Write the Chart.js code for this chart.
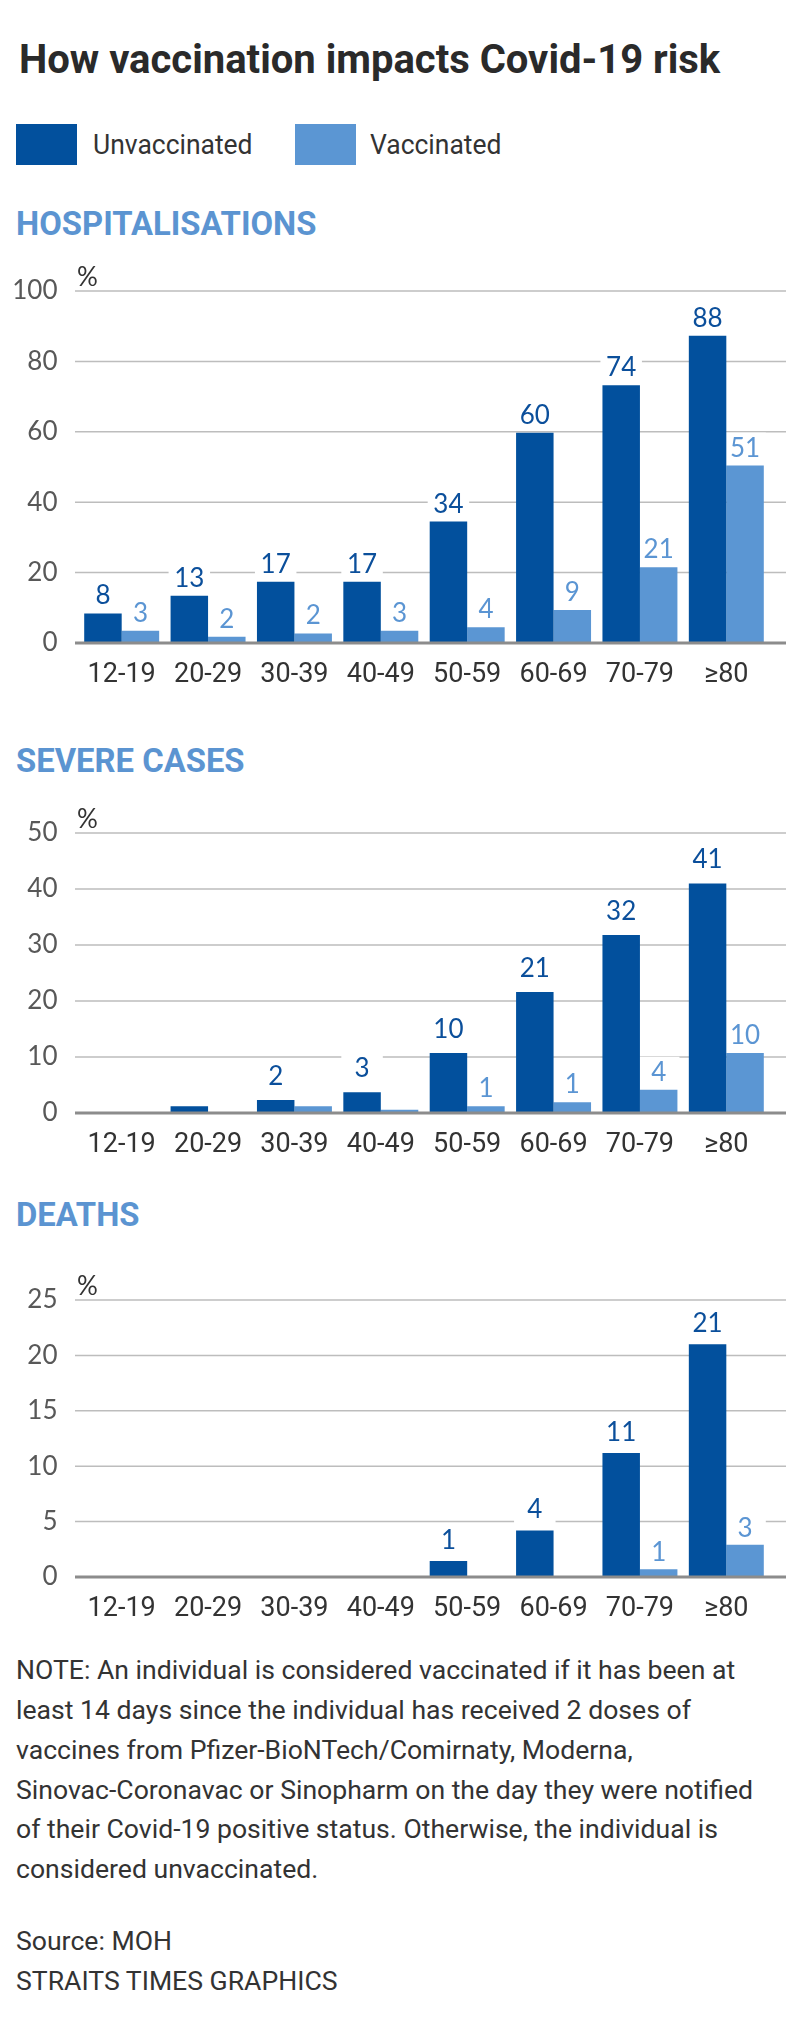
<!DOCTYPE html>
<html>
<head>
<meta charset="utf-8">
<script src="https://cdn.jsdelivr.net/npm/chart.js@4.4.1/dist/chart.umd.min.js"></script>
<style>
  html, body { margin: 0; padding: 0; background: #fff; }
  #page { position: relative; width: 800px; height: 2043px; overflow: hidden; }
  .t { position: absolute; white-space: nowrap; font-family: Roboto, sans-serif; line-height: 1; color: #333; transform-origin: 0 0; }
  .title { left: 19px; top: 39.6px; font-size: 40px; font-weight: 700; color: #2a2a2a; }
  .head { left: 16px; font-size: 34px; font-weight: 700; color: #5b94d1; transform: scaleX(0.965); }
  .leg { top: 131.4px; font-size: 28px; transform: scaleX(0.945); }
  .key { position: absolute; top: 124.3px; width: 60.5px; height: 40.7px; }
  .note { left: 16px; font-size: 26.6px; line-height: 39.8px; }
  canvas { position: absolute; left: 0; }
</style>
</head>
<body>
<div id="page">
  <div class="t title">How vaccination impacts Covid-19 risk</div>

  <div class="key" style="left:16px;background:#02509d"></div>
  <div class="t leg" style="left:92.7px">Unvaccinated</div>
  <div class="key" style="left:295px;background:#5b96d3"></div>
  <div class="t leg" style="left:370px">Vaccinated</div>

  <div class="t head" style="top:206.4px">HOSPITALISATIONS</div>
  <canvas id="hospChart" width="800" height="460" style="top:240px"></canvas>

  <div class="t head" style="top:743.1px">SEVERE CASES</div>
  <canvas id="severeChart" width="800" height="380" style="top:790px"></canvas>

  <div class="t head" style="top:1196.6px">DEATHS</div>
  <canvas id="deathsChart" width="800" height="380" style="top:1255px"></canvas>

  <div class="t note" style="top:1650.3px">NOTE: An individual is considered vaccinated if it has been at<br>least 14 days since the individual has received 2 doses of<br>vaccines from Pfizer-BioNTech/Comirnaty, Moderna,<br>Sinovac-Coronavac or Sinopharm on the day they were notified<br>of their Covid-19 positive status. Otherwise, the individual is<br>considered unvaccinated.</div>
  <div class="t note" style="top:1921px">Source: MOH<br>STRAITS TIMES GRAPHICS</div>
</div>

<script>
// ---------- data ----------
const ageGroups = ['12-19', '20-29', '30-39', '40-49', '50-59', '60-69', '70-79', '≥80'];

// hospitalisations (%), bar heights as drawn, and the numbers printed above them
const hospUnvax = [8.4, 13.4, 17.4, 17.4, 34.5, 59.7, 73.2, 87.3];
const hospVax = [3.5, 1.8, 2.7, 3.5, 4.5, 9.4, 21.5, 50.4];
const hospUnvaxText = ['8', '13', '17', '17', '34', '60', '74', '88'];
const hospVaxText = ['3', '2', '2', '3', '4', '9', '21', '51'];
const hospTicks = [0, 20, 40, 60, 80, 100];

// severe cases (%)
const severeUnvax = [0, 1.2, 2.3, 3.7, 10.7, 21.6, 31.8, 41.0];
const severeVax = [0, 0, 1.2, 0.6, 1.2, 1.9, 4.15, 10.7];
const severeUnvaxText = ['', '', '2', '3', '10', '21', '32', '41'];
const severeVaxText = ['', '', '', '', '1', '1', '4', '10'];
const severeTicks = [0, 10, 20, 30, 40, 50];

// deaths (%)
const deathsUnvax = [0, 0, 0, 0, 1.45, 4.2, 11.2, 21.0];
const deathsVax = [0, 0, 0, 0, 0, 0, 0.7, 2.9];
const deathsUnvaxText = ['', '', '', '', '1', '4', '11', '21'];
const deathsVaxText = ['', '', '', '', '', '', '1', '3'];
const deathsTicks = [0, 5, 10, 15, 20, 25];

const DARK = '#02509d';
const LIGHT = '#5b96d3';

// grid lines run a bit wider than the bar area, labels sit on white patches
const stPlugin = {
    id: 'stGrid',
    beforeDatasetsDraw(chart) {
        const ctx = chart.ctx;
        const y = chart.scales.y;
        ctx.save();
        ctx.strokeStyle = '#bdbdbd';
        ctx.lineWidth = 1.5;
        y.ticks.forEach(t => {
            if (t.value === 0) return;
            const py = y.getPixelForValue(t.value);
            ctx.beginPath();
            ctx.moveTo(75, py);
            ctx.lineTo(786, py);
            ctx.stroke();
        });
        ctx.fillStyle = '#fff';
        chart.data.datasets.forEach((ds, di) => {
            chart.getDatasetMeta(di).data.forEach((bar, i) => {
                if (!ds.printed[i]) return;
                const base = bar.y - ds.gap;
                ctx.fillRect(bar.x - bar.width / 2 - 2, base - 24, bar.width + 4, 30);
            });
        });
        ctx.restore();
    },
    afterDatasetsDraw(chart) {
        const ctx = chart.ctx;
        const y = chart.scales.y;
        ctx.save();
        // zero line
        ctx.fillStyle = '#8c8c8c';
        ctx.fillRect(75, y.getPixelForValue(0) - 1.5, 711, 3);
        // value labels
        ctx.font = '400 26px Lato';
        ctx.textAlign = 'center';
        ctx.textBaseline = 'alphabetic';
        chart.data.datasets.forEach((ds, di) => {
            ctx.fillStyle = ds.textColor;
            chart.getDatasetMeta(di).data.forEach((bar, i) => {
                if (!ds.printed[i]) return;
                ctx.fillText(ds.printed[i], bar.x, bar.y - ds.gap);
            });
        });
        // unit
        ctx.font = '400 26px Lato';
        ctx.fillStyle = '#333';
        ctx.textAlign = 'left';
        ctx.fillText('%', 77, y.getPixelForValue(y.max) - 5);
        ctx.restore();
    }
};

function makeChart(id, unvax, vax, unvaxText, vaxText, ticks, padTop, axisHeight, gapDark, gapLight) {
    const ctx = document.getElementById(id).getContext('2d');
    return new Chart(ctx, {
        type: 'bar',
        data: {
            labels: ageGroups,
            datasets: [{
                label: 'Unvaccinated',
                data: unvax,
                backgroundColor: DARK,
                printed: unvaxText,
                textColor: '#0b4f9b',
                gap: gapDark
            }, {
                label: 'Vaccinated',
                data: vax,
                backgroundColor: LIGHT,
                printed: vaxText,
                textColor: '#5b95d3',
                gap: gapLight
            }]
        },
        options: {
            responsive: false,
            animation: false,
            events: [],
            layout: { padding: { top: padTop, left: 0, right: 30.5, bottom: 0 } },
            datasets: { bar: { categoryPercentage: 0.868, barPercentage: 1 } },
            plugins: { legend: { display: false }, tooltip: { enabled: false } },
            scales: {
                x: {
                    grid: { display: false },
                    border: { display: false },
                    ticks: { color: '#333', padding: 8, font: { family: 'Roboto', size: 27 } },
                    afterFit: s => { s.height = axisHeight; }
                },
                y: {
                    min: 0,
                    max: ticks[ticks.length - 1],
                    afterBuildTicks: s => { s.ticks = ticks.map(v => ({ value: v })); },
                    grid: { display: false },
                    border: { display: false },
                    ticks: { color: '#585858', padding: 13, font: { family: 'Lato', size: 26, weight: 400 } },
                    afterFit: s => { s.width = 78.5; }
                }
            }
        },
        plugins: [stPlugin]
    });
}

makeChart('hospChart', hospUnvax, hospVax, hospUnvaxText, hospVaxText, hospTicks, 51, 57, 9, 9);
makeChart('severeChart', severeUnvax, severeVax, severeUnvaxText, severeVaxText, severeTicks, 43, 57, 15, 9);
makeChart('deathsChart', deathsUnvax, deathsVax, deathsUnvaxText, deathsVaxText, deathsTicks, 45, 58, 12, 8);
</script>
</body>
</html>
